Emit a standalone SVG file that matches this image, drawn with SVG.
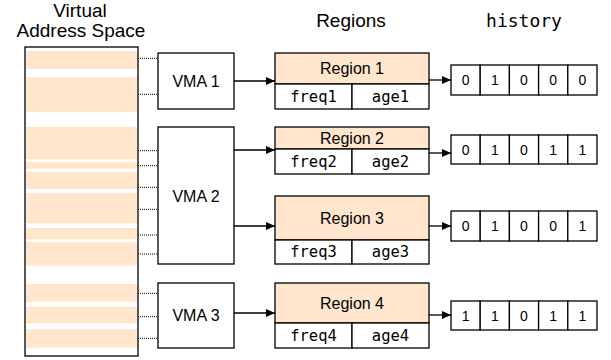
<svg xmlns="http://www.w3.org/2000/svg" width="611" height="360" viewBox="0 0 611 360">
<style>
.bx{fill:#fff;stroke:#000;stroke-width:1.3}
.hd{fill:#FFE6CC;stroke:#000;stroke-width:1.3}
.st{fill:#FFE6CC;stroke:none}
.t{font-family:"Liberation Sans",Arial,sans-serif;fill:#000;text-anchor:middle}
.ti{font-size:19px}
.n{font-size:16px}
.d{font-size:14px}
.m{font-family:"DejaVu Sans Mono","Liberation Mono",monospace;fill:#000;text-anchor:middle;font-size:15.5px}
.mt{font-size:18px}
.ln{stroke:#000;stroke-width:1.3;fill:none}
.dt{stroke:#000;stroke-width:1;stroke-dasharray:1 1;fill:none}
</style>
<defs>
<marker id="ah" markerUnits="userSpaceOnUse" markerWidth="10" markerHeight="10" refX="9" refY="4" orient="auto">
<path d="M0,0 L9,4 L0,8 Z" fill="#000"/>
</marker>
</defs>
<g id="titles">
<text class="t ti" x="80" y="17">Virtual</text>
<text class="t ti" x="81" y="37">Address Space</text>
<text class="t ti" x="351" y="27">Regions</text>
<text class="m mt" x="524" y="27">history</text>
</g>
<g id="address-space">
<rect class="bx" x="25" y="47" width="113" height="309"/>
<rect class="st" x="26" y="51" width="111" height="18"/>
<rect class="st" x="26" y="77.3" width="111" height="34.4"/>
<rect class="st" x="26" y="126.7" width="111" height="32.6"/>
<rect class="st" x="26" y="162" width="111" height="6.7"/>
<rect class="st" x="26" y="172" width="111" height="17"/>
<rect class="st" x="26" y="193.3" width="111" height="30"/>
<rect class="st" x="26" y="228" width="111" height="11.3"/>
<rect class="st" x="26" y="242" width="111" height="23.7"/>
<rect class="st" x="26" y="284" width="111" height="17.7"/>
<rect class="st" x="26" y="306.7" width="111" height="16.6"/>
<rect class="st" x="26" y="329.3" width="111" height="18.4"/>
</g>
<g id="vma1">
<rect class="bx" x="158" y="53" width="76" height="56"/>
<text class="t n" x="196" y="87">VMA 1</text>
</g>
<g id="vma2">
<rect class="bx" x="158" y="127" width="76" height="137"/>
<text class="t n" x="196" y="202">VMA 2</text>
</g>
<g id="vma3">
<rect class="bx" x="158" y="283" width="76" height="65"/>
<text class="t n" x="196" y="321">VMA 3</text>
</g>
<g id="region1">
<rect class="hd" x="275" y="53" width="154" height="31"/>
<rect class="bx" x="275" y="84" width="77" height="25"/>
<rect class="bx" x="352" y="84" width="77" height="25"/>
<text class="t n" x="352" y="74">Region 1</text>
<text class="m" x="313.5" y="101.5">freq1</text>
<text class="m" x="390.5" y="101.5">age1</text>
</g>
<g id="region2">
<rect class="hd" x="275" y="127" width="154" height="22"/>
<rect class="bx" x="275" y="149" width="77" height="25"/>
<rect class="bx" x="352" y="149" width="77" height="25"/>
<text class="t n" x="352" y="144">Region 2</text>
<text class="m" x="313.5" y="166.5">freq2</text>
<text class="m" x="390.5" y="166.5">age2</text>
</g>
<g id="region3">
<rect class="hd" x="275" y="196" width="154" height="44"/>
<rect class="bx" x="275" y="240" width="77" height="24"/>
<rect class="bx" x="352" y="240" width="77" height="24"/>
<text class="t n" x="352" y="224">Region 3</text>
<text class="m" x="313.5" y="257">freq3</text>
<text class="m" x="390.5" y="257">age3</text>
</g>
<g id="region4">
<rect class="hd" x="275" y="283" width="154" height="40"/>
<rect class="bx" x="275" y="323" width="77" height="25"/>
<rect class="bx" x="352" y="323" width="77" height="25"/>
<text class="t n" x="352" y="309">Region 4</text>
<text class="m" x="313.5" y="340.5">freq4</text>
<text class="m" x="390.5" y="340.5">age4</text>
</g>
<g id="history1">
<rect class="bx" x="451" y="65" width="29.2" height="30"/>
<rect class="bx" x="480.2" y="65" width="29.2" height="30"/>
<rect class="bx" x="509.4" y="65" width="29.2" height="30"/>
<rect class="bx" x="538.6" y="65" width="29.2" height="30"/>
<rect class="bx" x="567.8" y="65" width="29.2" height="30"/>
<text class="t d" x="465.6" y="85">0</text>
<text class="t d" x="494.8" y="85">1</text>
<text class="t d" x="524" y="85">0</text>
<text class="t d" x="553.2" y="85">0</text>
<text class="t d" x="582.4" y="85">0</text>
</g>
<g id="history2">
<rect class="bx" x="451" y="135" width="29.2" height="29"/>
<rect class="bx" x="480.2" y="135" width="29.2" height="29"/>
<rect class="bx" x="509.4" y="135" width="29.2" height="29"/>
<rect class="bx" x="538.6" y="135" width="29.2" height="29"/>
<rect class="bx" x="567.8" y="135" width="29.2" height="29"/>
<text class="t d" x="465.6" y="154.5">0</text>
<text class="t d" x="494.8" y="154.5">1</text>
<text class="t d" x="524" y="154.5">0</text>
<text class="t d" x="553.2" y="154.5">1</text>
<text class="t d" x="582.4" y="154.5">1</text>
</g>
<g id="history3">
<rect class="bx" x="451" y="211" width="29.2" height="30"/>
<rect class="bx" x="480.2" y="211" width="29.2" height="30"/>
<rect class="bx" x="509.4" y="211" width="29.2" height="30"/>
<rect class="bx" x="538.6" y="211" width="29.2" height="30"/>
<rect class="bx" x="567.8" y="211" width="29.2" height="30"/>
<text class="t d" x="465.6" y="231">0</text>
<text class="t d" x="494.8" y="231">1</text>
<text class="t d" x="524" y="231">0</text>
<text class="t d" x="553.2" y="231">0</text>
<text class="t d" x="582.4" y="231">1</text>
</g>
<g id="history4">
<rect class="bx" x="451" y="301" width="29.2" height="29"/>
<rect class="bx" x="480.2" y="301" width="29.2" height="29"/>
<rect class="bx" x="509.4" y="301" width="29.2" height="29"/>
<rect class="bx" x="538.6" y="301" width="29.2" height="29"/>
<rect class="bx" x="567.8" y="301" width="29.2" height="29"/>
<text class="t d" x="465.6" y="320.5">1</text>
<text class="t d" x="494.8" y="320.5">1</text>
<text class="t d" x="524" y="320.5">0</text>
<text class="t d" x="553.2" y="320.5">1</text>
<text class="t d" x="582.4" y="320.5">1</text>
</g>
<g id="connectors">
<path class="dt" d="M138,58.3H158M138,94.3H158M138,150.7H158M138,165.7H158M138,187.3H158M138,209.3H158M138,235H158M138,254H158M138,293.3H158M138,316.7H158M138,338.3H158"/>
<path class="ln" d="M234,81H275" marker-end="url(#ah)"/>
<path class="ln" d="M234,150H275" marker-end="url(#ah)"/>
<path class="ln" d="M234,226H275" marker-end="url(#ah)"/>
<path class="ln" d="M234,313H275" marker-end="url(#ah)"/>
<path class="ln" d="M429,80H451" marker-end="url(#ah)"/>
<path class="ln" d="M429,153H451" marker-end="url(#ah)"/>
<path class="ln" d="M429,226H451" marker-end="url(#ah)"/>
<path class="ln" d="M429,315H451" marker-end="url(#ah)"/>
</g>
</svg>
